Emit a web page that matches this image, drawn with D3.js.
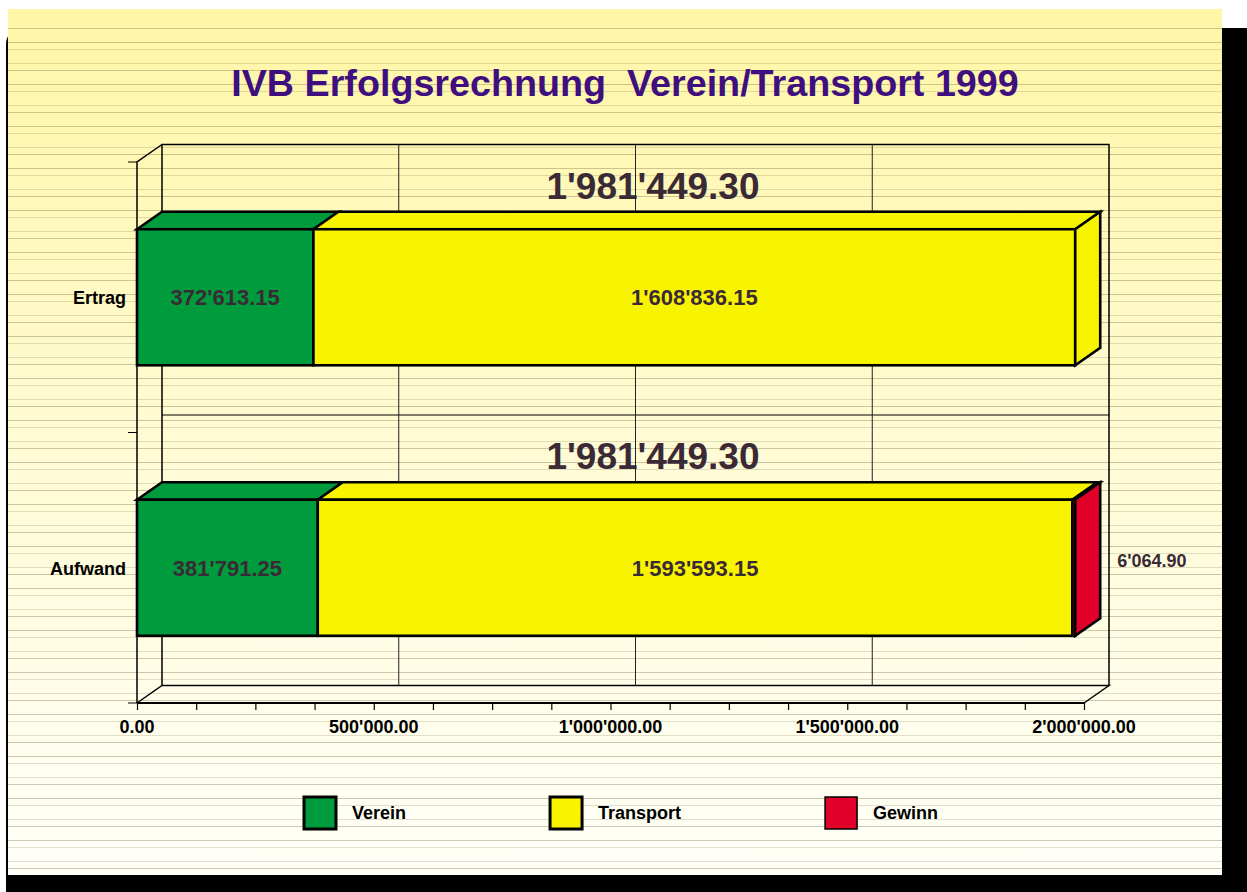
<!DOCTYPE html>
<html><head><meta charset="utf-8">
<script src="https://cdn.jsdelivr.net/npm/d3@7"></script>
<style>html,body{margin:0;padding:0;background:#fff;overflow:hidden}</style>
</head><body>
<svg id="chart" width="1247" height="892"></svg>
<script>
const categories = ["Ertrag", "Aufwand"];
const seriesNames = ["Verein", "Transport", "Gewinn"];
const verein = [372613.15, 381791.25];
const transport = [1608836.15, 1593593.15];
const gewinn = [0, 6064.90];
const totals = [1981449.30, 1981449.30];
const xTicks = [0, 500000, 1000000, 1500000, 2000000];
const colors = ["#009b3c", "#f8f400", "#e0002a"];
const titleText = "IVB Erfolgsrechnung  Verein/Transport 1999";

const W = 1247, H = 892;
const svg = d3.select("#chart");
const FONT = "'Liberation Sans', Arial, Helvetica, sans-serif";
const locale = d3.formatLocale({decimal: ".", thousands: "'", grouping: [3], currency: ["", ""]});
const fmt = locale.format(",.2f");

// frame / shadow
svg.append("rect").attr("x", 6).attr("y", 28).attr("width", 1260).attr("height", 880).attr("rx", 16).attr("fill", "#000");
const defs = svg.append("defs");
const grad = defs.append("linearGradient").attr("id", "bg").attr("x1", 0).attr("y1", 0).attr("x2", 0).attr("y2", 1);
grad.append("stop").attr("offset", "0%").attr("stop-color", "#fff6a6");
grad.append("stop").attr("offset", "50%").attr("stop-color", "#fffbd4");
grad.append("stop").attr("offset", "100%").attr("stop-color", "#fffff8");
const panel = {x: 8, y: 9, w: 1214, h: 866};
svg.append("rect").attr("x", panel.x).attr("y", panel.y).attr("width", panel.w).attr("height", panel.h).attr("fill", "url(#bg)");

// ruled background lines
const ruleY = d3.range(28, panel.y + panel.h - 2, 7).filter((y, i) => i % 3 !== 1);
svg.append("g").selectAll("line").data(ruleY).join("line")
  .attr("x1", panel.x).attr("x2", panel.x + panel.w)
  .attr("y1", d => d + 0.5).attr("y2", d => d + 0.5)
  .attr("stroke", (d, i) => (i % 4 < 2) ? "rgba(120,110,70,0.38)" : "rgba(120,110,70,0.22)")
  .attr("stroke-width", 1);

// title
svg.append("text").attr("x", 625).attr("y", 96).attr("text-anchor", "middle")
  .style("white-space", "pre").attr("font-family", FONT).attr("font-weight", "bold")
  .attr("font-size", 37.7).attr("fill", "#3f0f80").text(titleText);

// scales
const x = d3.scaleLinear().domain([0, 2000000]).range([137, 1084]);
const y = d3.scaleBand().domain(categories).range([162, 703]).paddingInner(0.497).paddingOuter(0.2485);
const dx = 25, dy = -17.5;
const [x0, x1] = x.range();
const [yT, yB] = y.range();
const step = y.step();

// walls
const wall = svg.append("g").attr("fill", "none").attr("stroke", "#000");
const line = d3.line();
wall.append("path").attr("stroke-width", 1.5)
  .attr("d", line([[x0 + dx, yB + dy], [x0 + dx, yT + dy], [x1 + dx, yT + dy], [x1 + dx, yB + dy]]));
wall.append("path").attr("stroke-width", 1.5)
  .attr("d", line([[x0, yB], [x0 + dx, yB + dy], [x1 + dx, yB + dy], [x1, yB]]));
wall.append("path").attr("stroke-width", 1.5)
  .attr("d", line([[x0, yB], [x0, yT], [x0 + dx, yT + dy]]));
// category separator on back wall
categories.slice(1).forEach((c, i) => {
  const yy = yT + step * (i + 1);
  wall.append("line").attr("stroke-width", 1).attr("x1", x0 + dx).attr("x2", x1 + dx).attr("y1", yy + dy).attr("y2", yy + dy);
});
// y ticks
d3.range(categories.length + 1).forEach(i => {
  const yy = yT + step * i;
  wall.append("line").attr("stroke-width", 1).attr("x1", x0 - 9).attr("x2", x0).attr("y1", yy).attr("y2", yy);
});

// total labels (behind gridlines)
const totG = svg.append("g");
categories.forEach((c, i) => {
  totG.append("text").attr("x", (x0 + x1 + dx) / 2 + 30).attr("y", y(c) + dy - 13)
    .attr("text-anchor", "middle").attr("font-family", FONT).attr("font-weight", "bold")
    .attr("font-size", 37).attr("fill", "#3a2a36").text(fmt(totals[i]));
});

// vertical gridlines on back wall
svg.append("g").selectAll("line").data(xTicks.slice(1, -1)).join("line")
  .attr("x1", d => x(d) + dx).attr("x2", d => x(d) + dx)
  .attr("y1", yT + dy).attr("y2", yB + dy).attr("stroke", "#222").attr("stroke-width", 1);

// x axis
const axisG = svg.append("g").attr("transform", `translate(0,${yB})`)
  .call(d3.axisBottom(x).tickValues(d3.range(0, 2000001, 125000)).tickSize(6).tickFormat(""));
axisG.select(".domain").attr("stroke", "#000").attr("stroke-width", 2).attr("d", `M${x0},0H${x1}`);
axisG.selectAll(".tick line").attr("stroke", "#000").attr("stroke-width", 1.2);
axisG.selectAll(".tick line").attr("y2", d => 7);
svg.append("g").selectAll("text").data(xTicks).join("text")
  .attr("x", d => x(d)).attr("y", yB + 30).attr("text-anchor", "middle")
  .attr("font-family", FONT).attr("font-weight", "bold").attr("font-size", 18).attr("fill", "#000")
  .text(d => fmt(d));

// category labels
svg.append("g").selectAll("text").data(categories).join("text")
  .attr("x", x0 - 11).attr("y", d => y(d) + y.bandwidth() / 2 + 7).attr("text-anchor", "end")
  .attr("font-family", FONT).attr("font-weight", "bold").attr("font-size", 18).attr("fill", "#000")
  .text(d => d);

// bars
const seriesVals = [verein, transport, gewinn];
const barsG = svg.append("g").attr("stroke", "#000").attr("stroke-width", 2.6).attr("stroke-linejoin", "miter");
categories.forEach((c, ci) => {
  const top = y(c), bot = y(c) + y.bandwidth();
  let acc = 0;
  const segs = [];
  seriesVals.forEach((vals, si) => {
    const v = vals[ci];
    if (v <= 0) return;
    segs.push({si, a: acc, b: acc + v});
    acc += v;
  });
  segs.forEach((s, k) => {
    const xa = x(s.a), xb = x(s.b);
    const col = colors[s.si];
    barsG.append("path").attr("fill", col)
      .attr("d", line([[xa, top], [xa + dx, top + dy], [xb + dx, top + dy], [xb, top]]) + "Z");
    barsG.append("rect").attr("x", xa).attr("y", top).attr("width", xb - xa).attr("height", bot - top).attr("fill", col);
    if (k === segs.length - 1) {
      barsG.append("path").attr("fill", col)
        .attr("d", line([[xb, top], [xb + dx, top + dy], [xb + dx, bot + dy], [xb, bot]]) + "Z");
    }
  });
  // segment labels
  segs.forEach(s => {
    const w = x(s.b) - x(s.a);
    const v = s.b - s.a;
    if (w > 60) {
      svg.append("text").attr("x", (x(s.a) + x(s.b)) / 2).attr("y", (top + bot) / 2 + 8)
        .attr("text-anchor", "middle").attr("font-family", FONT).attr("font-weight", "bold")
        .attr("font-size", 22).attr("fill", "#3a2a36").text(fmt(v));
    } else {
      svg.append("text").attr("x", x(s.b) + dx + 17).attr("y", (top + bot) / 2 + dy / 2 + 8)
        .attr("text-anchor", "start").attr("font-family", FONT).attr("font-weight", "bold")
        .attr("font-size", 18).attr("fill", "#3a2a36").text(fmt(v));
    }
  });
});

// legend
const legG = svg.append("g");
let lx = 304;
seriesNames.forEach((n, i) => {
  legG.append("rect").attr("x", lx).attr("y", 797).attr("width", 32).attr("height", 32)
    .attr("fill", colors[i]).attr("stroke", "#000").attr("stroke-width", i === 2 ? 1.5 : 3);
  const t = legG.append("text").attr("x", lx + 48).attr("y", 819)
    .attr("font-family", FONT).attr("font-weight", "bold").attr("font-size", 18).attr("fill", "#000").text(n);
  lx = lx + 48 + t.node().getComputedTextLength() + 144;
});
</script>
</body></html>
